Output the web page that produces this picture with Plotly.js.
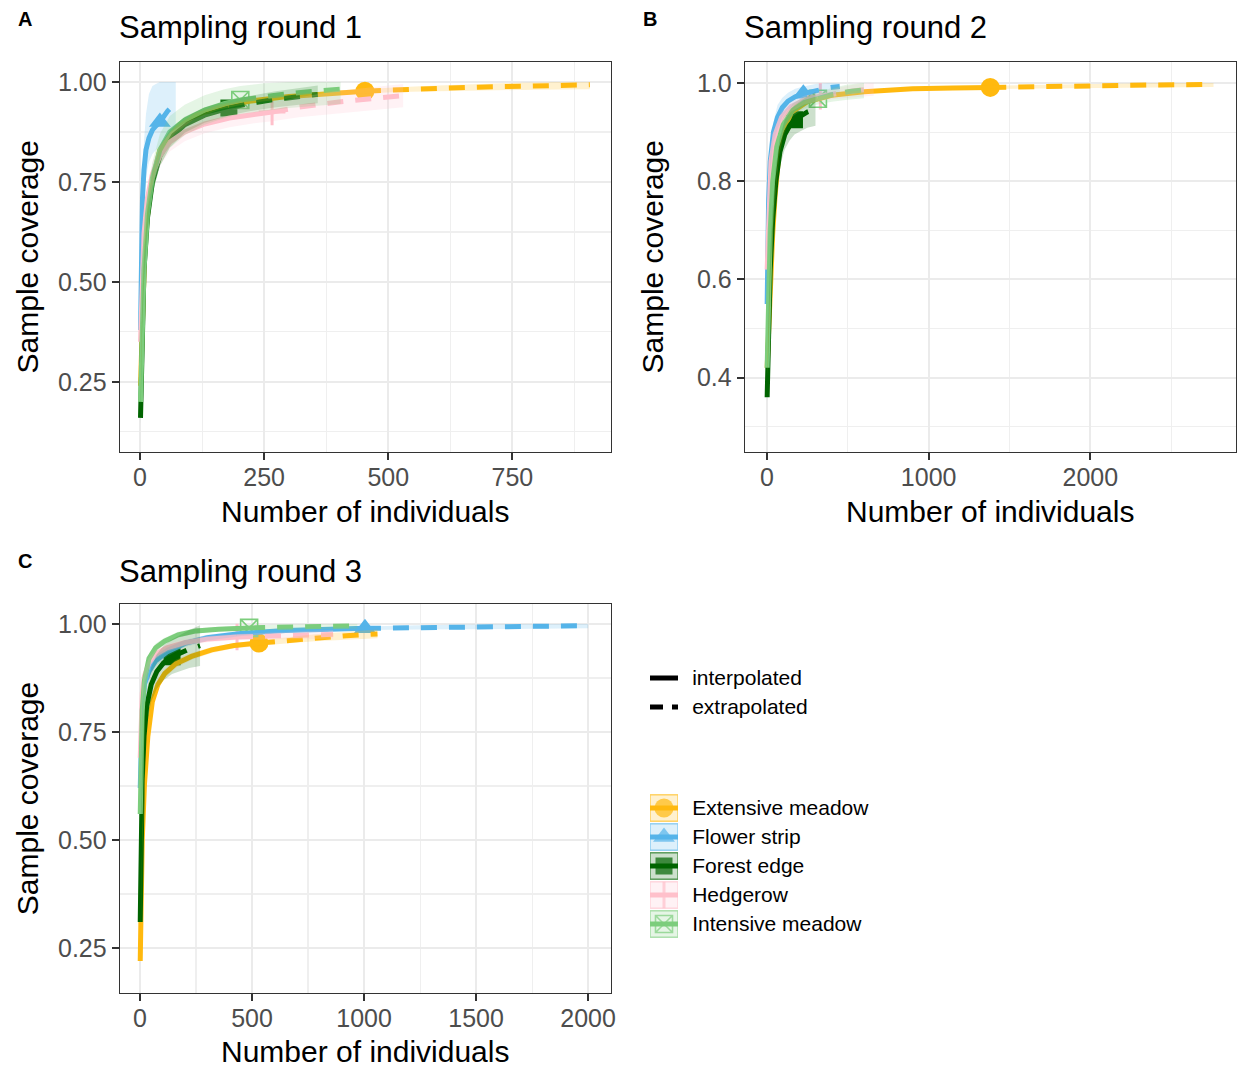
<!DOCTYPE html>
<html>
<head>
<meta charset="utf-8">
<script src="https://cdn.plot.ly/plotly-3.0.1.min.js"></script>
<style>
  html, body { margin: 0; padding: 0; background: #ffffff; }
  #chart { width: 1238px; height: 1068px; }
</style>
</head>
<body>
<div id="chart"></div>
<script>
// Sample-coverage curves (interpolated up to the observed sample size, extrapolated to twice it)
// for five habitats in three sampling rounds. Rows: [individuals, coverage, lower CI, upper CI].

const habitats = ['Extensive meadow', 'Flower strip', 'Forest edge', 'Hedgerow', 'Intensive meadow'];
const methods = ['interpolated', 'extrapolated'];
const panelTitles = ['Sampling round 1', 'Sampling round 2', 'Sampling round 3'];
const panelTags = ['A', 'B', 'C'];

// observed number of individuals per habitat (same order as habitats)
const round1Size = [453, 40, 179, 266, 202];
const round2Size = [1381, 225, 170, 330, 315];
const round3Size = [531, 1004, 143, 433, 487];

// ---- Sampling round 1 ----
const r1Extensive = [
  [1, 0.24, 0.22, 0.26], [5, 0.45, 0.43, 0.47], [10, 0.60, 0.58, 0.62], [20, 0.73, 0.715, 0.745],
  [40, 0.83, 0.82, 0.84], [70, 0.88, 0.872, 0.888], [110, 0.915, 0.908, 0.922], [160, 0.937, 0.931, 0.943],
  [220, 0.952, 0.947, 0.957], [300, 0.964, 0.959, 0.969], [380, 0.972, 0.967, 0.977], [453, 0.977, 0.972, 0.982],
  [520, 0.981, 0.975, 0.987], [600, 0.984, 0.977, 0.991], [680, 0.987, 0.979, 0.995], [760, 0.989, 0.980, 0.998],
  [840, 0.991, 0.981, 1.0], [906, 0.993, 0.982, 1.0]
];
const r1Flower = [
  [1, 0.38, 0.37, 0.39], [3, 0.60, 0.56, 0.64], [5, 0.71, 0.65, 0.77], [8, 0.78, 0.71, 0.85],
  [12, 0.83, 0.76, 0.92], [18, 0.86, 0.80, 0.97], [25, 0.88, 0.82, 0.99], [32, 0.89, 0.83, 0.995],
  [40, 0.90, 0.84, 1.0], [48, 0.915, 0.855, 1.0], [56, 0.928, 0.87, 1.0], [64, 0.938, 0.88, 1.0],
  [72, 0.945, 0.89, 1.0]
];
const r1Forest = [
  [1, 0.16, 0.14, 0.18], [4, 0.40, 0.37, 0.43], [8, 0.53, 0.50, 0.56], [15, 0.66, 0.63, 0.69],
  [25, 0.75, 0.72, 0.78], [40, 0.815, 0.79, 0.84], [60, 0.858, 0.836, 0.88], [90, 0.893, 0.873, 0.913],
  [130, 0.917, 0.898, 0.936], [179, 0.935, 0.916, 0.954], [220, 0.946, 0.927, 0.965], [270, 0.956, 0.936, 0.976],
  [320, 0.964, 0.943, 0.985], [358, 0.969, 0.947, 0.991]
];
const r1Hedgerow = [
  [1, 0.35, 0.33, 0.37], [4, 0.52, 0.49, 0.55], [8, 0.62, 0.59, 0.65], [15, 0.71, 0.68, 0.74],
  [25, 0.77, 0.74, 0.80], [40, 0.815, 0.79, 0.84], [60, 0.85, 0.826, 0.874], [90, 0.875, 0.852, 0.898],
  [130, 0.895, 0.872, 0.918], [180, 0.91, 0.887, 0.933], [230, 0.92, 0.897, 0.943], [266, 0.925, 0.902, 0.948],
  [320, 0.937, 0.912, 0.962], [400, 0.95, 0.922, 0.978], [460, 0.958, 0.93, 0.986], [530, 0.966, 0.937, 0.995]
];
const r1Intensive = [
  [1, 0.20, 0.18, 0.22], [4, 0.40, 0.36, 0.44], [8, 0.53, 0.49, 0.57], [15, 0.67, 0.63, 0.71],
  [25, 0.76, 0.72, 0.80], [40, 0.83, 0.79, 0.87], [60, 0.875, 0.835, 0.915], [90, 0.905, 0.867, 0.943],
  [130, 0.93, 0.893, 0.967], [170, 0.946, 0.91, 0.982], [202, 0.955, 0.92, 0.99], [250, 0.964, 0.928, 0.997],
  [300, 0.971, 0.935, 1.0], [350, 0.977, 0.94, 1.0], [404, 0.982, 0.945, 1.0]
];

// ---- Sampling round 2 ----
const r2Extensive = [
  [1, 0.42, 0.40, 0.44], [10, 0.50, 0.48, 0.52], [20, 0.58, 0.56, 0.60], [35, 0.69, 0.675, 0.705],
  [50, 0.77, 0.757, 0.783], [75, 0.86, 0.85, 0.87], [100, 0.90, 0.892, 0.908], [150, 0.94, 0.934, 0.946],
  [250, 0.962, 0.957, 0.967], [400, 0.975, 0.971, 0.979], [600, 0.982, 0.979, 0.985], [900, 0.988, 0.985, 0.991],
  [1150, 0.990, 0.987, 0.993], [1381, 0.991, 0.988, 0.994], [1700, 0.993, 0.989, 0.997], [2000, 0.994, 0.990, 0.998],
  [2400, 0.996, 0.991, 1.0], [2762, 0.997, 0.992, 1.0]
];
const r2Flower = [
  [1, 0.55, 0.53, 0.57], [5, 0.68, 0.66, 0.70], [10, 0.76, 0.74, 0.78], [20, 0.84, 0.82, 0.86],
  [40, 0.90, 0.88, 0.92], [65, 0.93, 0.905, 0.955], [95, 0.95, 0.93, 0.97], [130, 0.963, 0.946, 0.98],
  [175, 0.972, 0.957, 0.988], [225, 0.978, 0.964, 0.993], [300, 0.985, 0.971, 0.998], [380, 0.99, 0.976, 1.0],
  [450, 0.993, 0.979, 1.0]
];
const r2Forest = [
  [1, 0.36, 0.35, 0.37], [5, 0.42, 0.40, 0.44], [10, 0.50, 0.47, 0.53], [20, 0.62, 0.59, 0.65],
  [35, 0.72, 0.69, 0.75], [55, 0.80, 0.77, 0.83], [80, 0.86, 0.83, 0.89], [110, 0.895, 0.865, 0.925],
  [140, 0.913, 0.883, 0.943], [170, 0.925, 0.895, 0.955], [210, 0.933, 0.902, 0.964], [250, 0.941, 0.909, 0.973],
  [300, 0.947, 0.913, 0.981]
];
const r2Hedgerow = [
  [1, 0.62, 0.60, 0.64], [10, 0.74, 0.72, 0.76], [25, 0.84, 0.82, 0.86], [50, 0.895, 0.88, 0.91],
  [90, 0.93, 0.918, 0.942], [150, 0.952, 0.942, 0.962], [230, 0.965, 0.956, 0.974], [330, 0.973, 0.964, 0.982],
  [430, 0.979, 0.968, 0.99], [540, 0.984, 0.971, 0.997], [660, 0.988, 0.974, 1.0]
];
const r2Intensive = [
  [1, 0.42, 0.40, 0.44], [5, 0.50, 0.48, 0.52], [10, 0.58, 0.56, 0.60], [20, 0.70, 0.68, 0.72],
  [35, 0.80, 0.78, 0.82], [60, 0.87, 0.853, 0.887], [100, 0.915, 0.90, 0.93], [160, 0.945, 0.932, 0.958],
  [230, 0.96, 0.948, 0.972], [315, 0.968, 0.956, 0.98], [400, 0.976, 0.962, 0.99], [500, 0.982, 0.966, 0.997],
  [600, 0.986, 0.969, 1.0]
];

// ---- Sampling round 3 ----
const r3Extensive = [
  [1, 0.22, 0.21, 0.23], [5, 0.38, 0.36, 0.40], [10, 0.50, 0.48, 0.52], [20, 0.63, 0.61, 0.65],
  [35, 0.74, 0.725, 0.755], [55, 0.82, 0.807, 0.833], [80, 0.86, 0.849, 0.871], [110, 0.885, 0.875, 0.895],
  [160, 0.908, 0.899, 0.917], [230, 0.925, 0.917, 0.933], [320, 0.94, 0.933, 0.947], [420, 0.95, 0.944, 0.956],
  [531, 0.956, 0.95, 0.962], [650, 0.962, 0.955, 0.969], [780, 0.968, 0.96, 0.976], [920, 0.973, 0.964, 0.982],
  [1060, 0.977, 0.967, 0.987]
];
const r3Flower = [
  [1, 0.62, 0.60, 0.64], [5, 0.72, 0.70, 0.74], [10, 0.80, 0.78, 0.82], [20, 0.86, 0.845, 0.875],
  [40, 0.89, 0.876, 0.904], [70, 0.915, 0.903, 0.927], [120, 0.935, 0.925, 0.945], [200, 0.955, 0.947, 0.963],
  [300, 0.968, 0.961, 0.975], [450, 0.978, 0.972, 0.984], [650, 0.985, 0.98, 0.99], [850, 0.988, 0.984, 0.992],
  [1004, 0.99, 0.986, 0.994], [1250, 0.992, 0.987, 0.997], [1500, 0.994, 0.988, 0.999], [1750, 0.995, 0.989, 1.0],
  [2000, 0.996, 0.99, 1.0]
];
const r3Forest = [
  [1, 0.31, 0.29, 0.33], [3, 0.45, 0.42, 0.48], [6, 0.55, 0.52, 0.58], [10, 0.64, 0.60, 0.68],
  [18, 0.74, 0.70, 0.78], [30, 0.81, 0.77, 0.85], [50, 0.86, 0.82, 0.90], [75, 0.89, 0.85, 0.93],
  [105, 0.91, 0.87, 0.95], [143, 0.924, 0.884, 0.964], [180, 0.933, 0.891, 0.975], [220, 0.942, 0.898, 0.986],
  [268, 0.95, 0.903, 0.997]
];
const r3Hedgerow = [
  [1, 0.69, 0.67, 0.71], [5, 0.78, 0.76, 0.80], [10, 0.84, 0.82, 0.86], [20, 0.88, 0.865, 0.895],
  [40, 0.91, 0.898, 0.922], [70, 0.93, 0.92, 0.94], [120, 0.945, 0.936, 0.954], [200, 0.957, 0.949, 0.965],
  [300, 0.965, 0.958, 0.972], [433, 0.97, 0.963, 0.977], [550, 0.972, 0.964, 0.98], [700, 0.974, 0.965, 0.983],
  [862, 0.976, 0.966, 0.986]
];
const r3Intensive = [
  [1, 0.56, 0.54, 0.58], [5, 0.68, 0.66, 0.70], [10, 0.80, 0.78, 0.82], [20, 0.87, 0.855, 0.885],
  [40, 0.92, 0.908, 0.932], [70, 0.945, 0.935, 0.955], [110, 0.96, 0.952, 0.968], [170, 0.975, 0.968, 0.982],
  [250, 0.984, 0.978, 0.99], [350, 0.988, 0.983, 0.993], [487, 0.991, 0.986, 0.996], [620, 0.993, 0.987, 0.999],
  [800, 0.995, 0.988, 1.0], [970, 0.996, 0.989, 1.0]
];

// ---------------- styling ----------------
const FONT = 'Liberation Sans, Arial, Helvetica, sans-serif';
const COLORS = ['#FFB90F', '#56B4E9', '#006400', '#FFC0CB', '#7CCD7C'];
const SYMBOLS = ['circle', 'triangle-up', 'square', 'cross-thin-open', 'square-x-open'];
const SYMBOL_SIZE = [19, 19, 17, 19, 17];
const SYMBOL_LINE = [0, 0, 0, 3, 1.6];
const W = 1238, H = 1068;

function rgba(hex, a) {
  const v = parseInt(hex.slice(1), 16);
  return 'rgba(' + ((v >> 16) & 255) + ',' + ((v >> 8) & 255) + ',' + (v & 255) + ',' + a + ')';
}

const panels = [
  { tables: [r1Extensive, r1Flower, r1Forest, r1Hedgerow, r1Intensive], sizes: round1Size, xa: 'x', ya: 'y' },
  { tables: [r2Extensive, r2Flower, r2Forest, r2Hedgerow, r2Intensive], sizes: round2Size, xa: 'x2', ya: 'y2' },
  { tables: [r3Extensive, r3Flower, r3Forest, r3Hedgerow, r3Intensive], sizes: round3Size, xa: 'x3', ya: 'y3' }
];

const traces = [];
const col = (t, k) => t.map(r => r[k]);

// layer order: observed points, then curves, then translucent confidence bands
panels.forEach(p => {
  const pointTraces = [], lineTraces = [], ribbonTraces = [];
  p.tables.forEach((t, i) => {
    const n = p.sizes[i];
    const m = col(t, 0), lo = col(t, 2), hi = col(t, 3);
    const interp = t.filter(r => r[0] <= n);
    const extrap = t.filter(r => r[0] >= n);
    const obs = t.find(r => r[0] === n);
    pointTraces.push({
      type: 'scatter', mode: 'markers', xaxis: p.xa, yaxis: p.ya, hoverinfo: 'skip', showlegend: false,
      x: [obs[0]], y: [obs[1]],
      marker: { symbol: SYMBOLS[i], size: SYMBOL_SIZE[i], color: COLORS[i],
                line: { color: COLORS[i], width: SYMBOL_LINE[i] } }
    });
    lineTraces.push({
      type: 'scatter', mode: 'lines', xaxis: p.xa, yaxis: p.ya, hoverinfo: 'skip', showlegend: false,
      x: col(interp, 0), y: col(interp, 1),
      line: { color: COLORS[i], width: 5, dash: 'solid' }
    });
    lineTraces.push({
      type: 'scatter', mode: 'lines', xaxis: p.xa, yaxis: p.ya, hoverinfo: 'skip', showlegend: false,
      x: col(extrap, 0), y: col(extrap, 1),
      line: { color: COLORS[i], width: 5, dash: '16px,12px' }
    });
    ribbonTraces.push({
      type: 'scatter', mode: 'lines', xaxis: p.xa, yaxis: p.ya, hoverinfo: 'skip', showlegend: false,
      x: m.concat(m.slice().reverse()), y: lo.concat(hi.slice().reverse()),
      fill: 'toself', fillcolor: rgba(COLORS[i], 0.2), line: { width: 0 }
    });
  });
  traces.push(...pointTraces, ...lineTraces, ...ribbonTraces);
});

// habitat key markers
traces.push({
  type: 'scatter', mode: 'markers', xaxis: 'x4', yaxis: 'y4', hoverinfo: 'skip', showlegend: false,
  x: habitats.map(() => 0), y: habitats,
  marker: { symbol: SYMBOLS, size: SYMBOL_SIZE, color: COLORS,
            line: { color: COLORS, width: SYMBOL_LINE } }
});
// invisible anchor so the method key axis is drawn
traces.push({
  type: 'scatter', mode: 'markers', xaxis: 'x5', yaxis: 'y5', hoverinfo: 'skip', showlegend: false,
  x: methods.map(() => 0), y: methods, marker: { opacity: 0 }
});

function dom(a, b, total) { return [a / total, b / total]; }
function ydom(top, bottom) { return [1 - bottom / H, 1 - top / H]; }

function axisBase(extra) {
  return Object.assign({
    showline: true, mirror: true, linecolor: '#333333', linewidth: 1.3,
    ticks: 'outside', ticklen: 7, tickwidth: 2, tickcolor: '#333333',
    tickfont: { family: FONT, size: 25, color: '#4D4D4D' },
    showgrid: true, gridcolor: '#EBEBEB', gridwidth: 2.2,
    zeroline: false, automargin: false, fixedrange: true
  }, extra);
}
function xTitle() {
  return { text: 'Number of individuals', font: { family: FONT, size: 30, color: '#000000' }, standoff: 11 };
}
function yTitle(standoff) {
  return { text: 'Sample coverage', font: { family: FONT, size: 30, color: '#000000' }, standoff: standoff };
}

const layout = {
  width: W, height: H,
  margin: { l: 0, r: 0, t: 0, b: 0 },
  paper_bgcolor: '#ffffff', plot_bgcolor: '#ffffff',
  font: { family: FONT, color: '#000000' },
  showlegend: false,
  xaxis: axisBase({ domain: dom(120, 610.5, W), anchor: 'y', range: [-40.3, 947.6], tick0: 0, dtick: 250,
    ticklabelstandoff: -4,
    minor: { dtick: 125, showgrid: true, gridcolor: '#EFEFEF', gridwidth: 1.1 }, title: xTitle() }),
  yaxis: axisBase({ domain: ydom(62, 451.5), anchor: 'x', range: [0.076, 1.05], tick0: 0, dtick: 0.25, tickformat: '.2f',
    minor: { dtick: 0.125, showgrid: true, gridcolor: '#EFEFEF', gridwidth: 1.1 }, title: yTitle(10) }),
  xaxis2: axisBase({ domain: dom(745, 1235.5, W), anchor: 'y2', range: [-136, 2898], tick0: 0, dtick: 1000,
    ticklabelstandoff: -4,
    minor: { dtick: 500, showgrid: true, gridcolor: '#EFEFEF', gridwidth: 1.1 }, title: xTitle() }),
  yaxis2: axisBase({ domain: ydom(62, 451.5), anchor: 'x2', range: [0.2495, 1.0427], tick0: 0, dtick: 0.2, tickformat: '.1f',
    minor: { dtick: 0.1, showgrid: true, gridcolor: '#EFEFEF', gridwidth: 1.1 }, title: yTitle(24) }),
  xaxis3: axisBase({ domain: dom(120, 610.5, W), anchor: 'y3', range: [-89.3, 2100], tick0: 0, dtick: 500,
    ticklabelstandoff: -4,
    minor: { dtick: 250, showgrid: true, gridcolor: '#EFEFEF', gridwidth: 1.1 }, title: xTitle() }),
  yaxis3: axisBase({ domain: ydom(604, 993), anchor: 'x3', range: [0.1458, 1.0463], tick0: 0, dtick: 0.25, tickformat: '.2f',
    minor: { dtick: 0.125, showgrid: true, gridcolor: '#EFEFEF', gridwidth: 1.1 }, title: yTitle(10) }),
  // habitat key
  xaxis4: { domain: dom(650, 678, W), anchor: 'y4', range: [-0.5, 0.5], visible: false, fixedrange: true },
  yaxis4: { domain: ydom(793.5, 938.5), anchor: 'x4', type: 'category', categoryarray: habitats, categoryorder: 'array',
    range: [4.5, -0.5], side: 'right', showgrid: false, zeroline: false, showline: false,
    ticks: 'outside', ticklen: 9, tickcolor: 'rgba(0,0,0,0)',
    tickfont: { family: FONT, size: 21, color: '#000000' }, automargin: false, fixedrange: true },
  // method key
  xaxis5: { domain: dom(650, 678, W), anchor: 'y5', range: [-0.5, 0.5], visible: false, fixedrange: true },
  yaxis5: { domain: ydom(663.5, 721.5), anchor: 'x5', type: 'category', categoryarray: methods, categoryorder: 'array',
    range: [1.5, -0.5], side: 'right', showgrid: false, zeroline: false, showline: false,
    ticks: 'outside', ticklen: 9, tickcolor: 'rgba(0,0,0,0)',
    tickfont: { family: FONT, size: 21, color: '#000000' }, automargin: false, fixedrange: true },
  shapes: [],
  annotations: []
};

// key boxes and key lines
habitats.forEach((h, i) => {
  layout.shapes.push({ type: 'rect', xref: 'x4', yref: 'y4', x0: -0.5, x1: 0.5, y0: i - 0.46, y1: i + 0.46,
    fillcolor: rgba(COLORS[i], 0.2), line: { color: rgba(COLORS[i], 0.6), width: 1.5 }, layer: 'below' });
  layout.shapes.push({ type: 'line', xref: 'x4', yref: 'y4', x0: -0.5, x1: 0.5, y0: i, y1: i,
    line: { color: COLORS[i], width: 5 }, layer: 'below' });
});
methods.forEach((mth, i) => {
  layout.shapes.push({ type: 'line', xref: 'x5', yref: 'y5', x0: -0.5, x1: 0.5, y0: i, y1: i,
    line: { color: '#000000', width: 5, dash: i === 0 ? 'solid' : '13px,9px' } });
});

// panel titles and tags
const titlePos = [[117, 28], [742, 28], [117, 571]];
const tagPos = [[25, 19], [650, 19], [25, 561]];
panelTitles.forEach((t, i) => {
  layout.annotations.push({ text: t, xref: 'paper', yref: 'paper', x: titlePos[i][0] / W, y: 1 - titlePos[i][1] / H,
    xanchor: 'left', yanchor: 'middle', showarrow: false, font: { family: FONT, size: 31, color: '#000000' } });
  layout.annotations.push({ text: '<b>' + panelTags[i] + '</b>', xref: 'paper', yref: 'paper',
    x: tagPos[i][0] / W, y: 1 - tagPos[i][1] / H, xanchor: 'center', yanchor: 'middle', showarrow: false,
    font: { family: FONT, size: 20, color: '#000000' } });
});

Plotly.newPlot('chart', traces, layout, { staticPlot: true, displayModeBar: false });
</script>
</body>
</html>
